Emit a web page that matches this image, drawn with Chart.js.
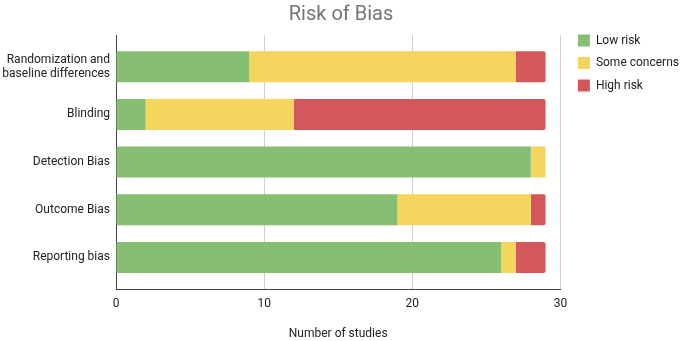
<!DOCTYPE html>
<html>
<head>
<meta charset="utf-8">
<script src="https://cdn.jsdelivr.net/npm/chart.js@4/dist/chart.umd.min.js"></script>
<style>
  html, body { margin: 0; padding: 0; background: #fff; }
  #wrap { width: 685px; height: 341px; }
</style>
</head>
<body>
<div id="wrap"><canvas id="riskChart"></canvas></div>
<script>
const domains = [
  ['Randomization and', 'baseline differences'],
  'Blinding',
  'Detection Bias',
  'Outcome Bias',
  'Reporting bias'
];
const lowRisk = [9, 2, 28, 19, 26];
const someConcerns = [18, 10, 1, 9, 1];
const highRisk = [2, 17, 0, 1, 2];
const xTicks = [0, 10, 20, 30];

// nudge the legend a bit right and down, like the original
const legendShift = {
  id: 'legendShift',
  afterLayout(chart) {
    const lg = chart.legend;
    lg.left += 7; lg.right += 7;
    lg.top += 24; lg.bottom += 24;
  }
};

const data = {
  labels: domains,
  datasets: [
    {
      label: 'Low risk',
      data: lowRisk,
      backgroundColor: '#87bf72',
    },
    {
      label: 'Some concerns',
      data: someConcerns,
      backgroundColor: '#f6d55f',
    },
    {
      label: 'High risk',
      data: highRisk,
      backgroundColor: '#d4585b',
      borderRadius: { topRight: 2, bottomRight: 2 },
      borderSkipped: false,
    },
  ],
};

const config = {
  type: 'bar',
  data: data,
  options: {
    indexAxis: 'y',
    responsive: true,
    maintainAspectRatio: false,
    animation: false,
    layout: { padding: { left: 0, right: 3, top: 0, bottom: 0 } },
    datasets: {
      bar: { categoryPercentage: 0.65, barPercentage: 1.0 }
    },
    scales: {
      x: {
        stacked: true,
        min: 0,
        max: 30,
        afterBuildTicks: (axis) => { axis.ticks = xTicks.map(v => ({ value: v })); },
        grid: { color: '#d0d0d0', drawTicks: false },
        border: { color: '#444', width: 1 },
        ticks: { color: '#222', font: { family: 'Roboto', size: 12 }, padding: 8 },
        title: {
          display: true,
          text: 'Number of studies',
          color: '#222',
          font: { family: 'Roboto', size: 12 },
          padding: { top: 7, bottom: 0 }
        }
      },
      y: {
        stacked: true,
        afterFit: (axis) => { axis.width = 116; },
        // leave a little empty space above the first and below the last bar
        afterBuildTicks: (axis) => {
          axis._startValue -= 0.1667;
          axis._valueRange += 0.3333;
        },
        grid: { display: false, drawTicks: false },
        border: { color: '#444', width: 1 },
        ticks: { color: '#222', font: { family: 'Roboto', size: 12 }, padding: 6 }
      }
    },
    plugins: {
      title: {
        display: true,
        text: 'Risk of Bias',
        color: '#757575',
        font: { family: 'Roboto', size: 20, weight: 'normal' },
        padding: { top: 3, bottom: 8 }
      },
      legend: {
        position: 'right',
        align: 'start',
        labels: {
          boxWidth: 12,
          boxHeight: 12,
          padding: 10.5,
          color: '#222',
          font: { family: 'Roboto', size: 12 }
        }
      },
      tooltip: { enabled: false }
    }
  },
  plugins: [legendShift]
};

new Chart(document.getElementById('riskChart'), config);
</script>
</body>
</html>
